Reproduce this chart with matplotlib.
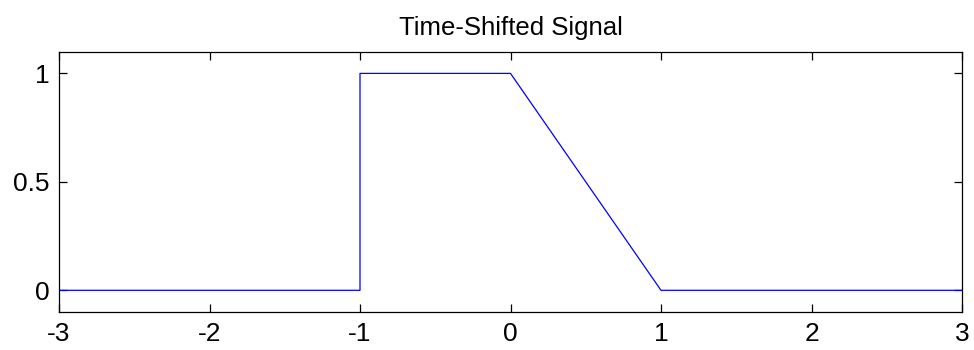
import matplotlib
matplotlib.use('Agg')
import matplotlib.pyplot as plt

# breakpoints of the shifted signal
t = [-3, -1, -1, 0, 1, 3]
x = [0, 0, 1, 1, 0, 0]

xticks = [-3, -2, -1, 0, 1, 2, 3]
yticks = [0, 0.5, 1]

plt.rcParams['font.family'] = ['Liberation Sans', 'DejaVu Sans']

fig = plt.figure(figsize=(9.74, 3.5), dpi=100)
ax = fig.add_axes([59 / 974, 1 - 312 / 350, (962 - 59) / 974, (312 - 51.7) / 350])

ax.plot(t, x, color='#0000ff', linewidth=0.9)

ax.set_xlim(-3, 3)
ax.set_ylim(-0.1, 1.1)
ax.set_xticks(xticks)
ax.set_xticklabels([str(v) for v in xticks])
ax.set_yticks(yticks)
ax.set_yticklabels(['0', '0.5', '1'])

ax.tick_params(direction='in', length=6, width=0.9, labelsize=19,
               top=True, right=True, pad=7)
for s in ax.spines.values():
    s.set_linewidth(0.9)

ax.set_title('Time-Shifted Signal', fontsize=18.5, pad=12)

fig.savefig('out.png', dpi=100)
